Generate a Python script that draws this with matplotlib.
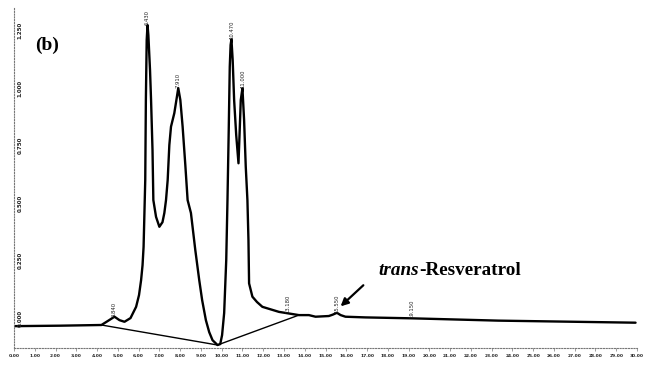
import numpy as np
import matplotlib.pyplot as plt

# retention time (min) and detector signal (AU)
time = [0.00, 2.21, 4.21, 4.51, 4.84, 5.08, 5.32, 5.61, 5.88, 6.02, 6.12, 6.19,
        6.24, 6.32, 6.35, 6.39, 6.43, 6.47, 6.55, 6.60, 6.67, 6.71, 6.84, 7.00,
        7.15, 7.24, 7.32, 7.40, 7.48, 7.56, 7.72, 7.82, 7.91, 8.01, 8.12, 8.25,
        8.36, 8.52, 8.73, 8.92, 9.06, 9.24, 9.40, 9.56, 9.80, 9.93, 10.02, 10.12,
        10.22, 10.28, 10.34, 10.39, 10.43, 10.47, 10.53, 10.60, 10.70, 10.81,
        10.86, 10.92, 11.00, 11.08, 11.16, 11.24, 11.29, 11.32, 11.48, 11.70,
        11.96, 12.76, 13.72, 14.20, 14.52, 15.16, 15.35, 15.55, 15.73, 15.96,
        16.92, 19.15, 23.31, 29.93]
signal = [-0.035, -0.033, -0.030, -0.013, 0.006, -0.009, -0.016, 0.000, 0.049,
          0.100, 0.165, 0.230, 0.310, 0.600, 0.948, 1.209, 1.274, 1.230, 1.078,
          0.948, 0.730, 0.513, 0.440, 0.397, 0.417, 0.457, 0.513, 0.600, 0.752,
          0.832, 0.891, 0.948, 1.000, 0.948, 0.832, 0.665, 0.513, 0.457, 0.296,
          0.165, 0.078, -0.009, -0.061, -0.096, -0.117, -0.113, -0.074, 0.022,
          0.252, 0.513, 0.817, 1.093, 1.187, 1.212, 1.122, 0.948, 0.796, 0.673,
          0.796, 0.948, 0.999, 0.861, 0.658, 0.513, 0.339, 0.151, 0.093, 0.070,
          0.049, 0.027, 0.013, 0.013, 0.006, 0.009, 0.015, 0.023, 0.013, 0.006,
          0.003, -0.001, -0.011, -0.020]

# integration baseline drawn under the peaks
base_t = [4.21, 9.80, 13.72]
base_y = [-0.030, -0.117, 0.013]

# retention-time labels printed on the peaks
peak_times = [4.84, 6.43, 7.91, 10.47, 11.00, 13.18, 15.55, 19.15]
peak_labels = ["4.840", "6.430", "7.910", "10.470", "11.000",
               "13.180", "15.550", "19.150"]

x_ticks = np.arange(0, 31, 1)
x_ticklabels = ["%.2f" % v for v in x_ticks]
y_ticks = [0.0, 0.25, 0.5, 0.75, 1.0, 1.25]
y_ticklabels = ["0.000", "0.250", "0.500", "0.750", "1.000", "1.250"]

fig = plt.figure(figsize=(6.46, 3.68), dpi=100)
ax = fig.add_axes([14 / 646, 20 / 368, 623 / 646, 340 / 368])

ax.plot(time, signal, color="black", linewidth=1.7, solid_capstyle="round")
ax.plot(base_t, base_y, color="black", linewidth=1.0)

ax.set_xlim(0, 30)
ax.set_ylim(-0.130, 1.348)

for spine in ["top", "right"]:
    ax.spines[spine].set_visible(False)
for spine in ["left", "bottom"]:
    ax.spines[spine].set_linestyle((0, (1, 1.5)))
    ax.spines[spine].set_color("#777777")
    ax.spines[spine].set_linewidth(0.8)

ax.set_xticks(x_ticks)
ax.set_xticklabels(x_ticklabels, fontsize=3.2, color="#222222",
                   fontweight="bold")
ax.tick_params(axis="x", length=2, width=0.5, color="#777777", pad=2)
ax.set_yticks([])

for v, lab in zip(y_ticks, y_ticklabels):
    ax.text(0.01, v, lab, transform=ax.get_yaxis_transform(), rotation=90,
            fontsize=4, ha="center", va="center", color="#222222",
            fontweight="bold")

for t, lab in zip(peak_times, peak_labels):
    yv = np.interp(t, time, signal)
    ax.text(t, yv, lab, rotation=90, fontsize=3.8, ha="center", va="bottom",
            color="#222222")

ax.text(0.0335, 0.89, "(b)", transform=ax.transAxes, fontsize=14,
        fontweight="bold", family="Liberation Serif", va="center", ha="left")

ax.annotate("", xy=(15.63, 0.043), xytext=(16.92, 0.151),
            arrowprops=dict(arrowstyle="-|>", color="black", lw=1.6,
                            mutation_scale=11))
t1 = ax.text(17.55, 0.209, "trans", fontsize=13.8, fontweight="bold",
             style="italic", family="Liberation Serif", va="center", ha="left")
ax.annotate("-Resveratrol", xy=(1, 0), xycoords=t1, fontsize=13.8,
            fontweight="bold", family="Liberation Serif", va="bottom",
            ha="left")

fig.savefig("out.png", dpi=100)
